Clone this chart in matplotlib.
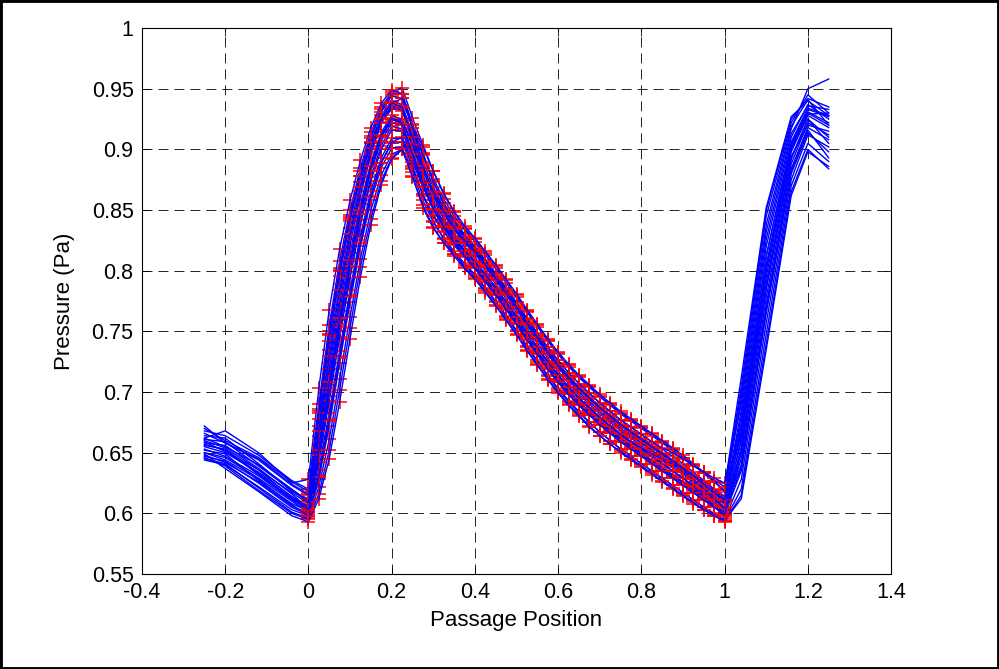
import matplotlib
matplotlib.use('Agg')
import matplotlib.pyplot as plt
from matplotlib.patches import Rectangle

# passage positions: inlet stretch, blade surface (measured, marked), outlet stretch
x_left = [-0.25, -0.2, -0.12, -0.04]
x_blade = [0.0, 0.025, 0.05, 0.075, 0.1, 0.125, 0.15, 0.175, 0.2, 0.225,
           0.25, 0.275, 0.3, 0.325, 0.35, 0.375, 0.4, 0.425, 0.45, 0.475,
           0.5, 0.525, 0.55, 0.575, 0.6, 0.625, 0.65, 0.675, 0.7, 0.725,
           0.75, 0.775, 0.8, 0.825, 0.85, 0.875, 0.9, 0.925, 0.95, 0.975, 1.0]
x_right = [1.04, 1.1, 1.16, 1.2, 1.25]

# pressure per run: 4 inlet values, 41 blade values, 5 outlet values
run_01 = [0.668, 0.664, 0.648, 0.627,
          0.620, 0.690, 0.755, 0.808, 0.850, 0.885, 0.914, 0.935, 0.947, 0.951, 0.926,
          0.904, 0.882, 0.863, 0.848, 0.835, 0.826, 0.815, 0.804, 0.792, 0.780,
          0.767, 0.755, 0.743, 0.732, 0.722, 0.713, 0.705, 0.697, 0.690, 0.683,
          0.677, 0.671, 0.665, 0.659, 0.653, 0.646, 0.640, 0.633, 0.626, 0.619,
          0.700, 0.845, 0.922, 0.945, 0.930]
run_02 = [0.662, 0.655, 0.640, 0.620,
          0.610, 0.672, 0.735, 0.789, 0.835, 0.873, 0.905, 0.928, 0.940, 0.937, 0.912,
          0.890, 0.869, 0.852, 0.839, 0.828, 0.818, 0.807, 0.796, 0.784, 0.772,
          0.759, 0.747, 0.735, 0.724, 0.713, 0.704, 0.695, 0.687, 0.680, 0.673,
          0.667, 0.661, 0.655, 0.649, 0.643, 0.637, 0.631, 0.624, 0.617, 0.610,
          0.680, 0.820, 0.910, 0.937, 0.925]
run_03 = [0.655, 0.650, 0.634, 0.614,
          0.605, 0.655, 0.713, 0.767, 0.815, 0.855, 0.889, 0.914, 0.928, 0.925, 0.902,
          0.879, 0.858, 0.843, 0.831, 0.820, 0.811, 0.800, 0.789, 0.777, 0.765,
          0.752, 0.740, 0.728, 0.717, 0.707, 0.698, 0.690, 0.682, 0.675, 0.668,
          0.662, 0.656, 0.650, 0.644, 0.638, 0.632, 0.626, 0.619, 0.612, 0.605,
          0.660, 0.795, 0.898, 0.928, 0.918]
run_04 = [0.650, 0.646, 0.629, 0.610,
          0.601, 0.642, 0.693, 0.745, 0.794, 0.838, 0.874, 0.900, 0.916, 0.915, 0.893,
          0.870, 0.850, 0.836, 0.824, 0.813, 0.804, 0.793, 0.782, 0.770, 0.758,
          0.745, 0.733, 0.721, 0.710, 0.700, 0.691, 0.683, 0.675, 0.668, 0.661,
          0.655, 0.649, 0.643, 0.637, 0.631, 0.625, 0.619, 0.613, 0.607, 0.601,
          0.645, 0.778, 0.888, 0.922, 0.912]
run_05 = [0.644, 0.640, 0.622, 0.603,
          0.598, 0.628, 0.672, 0.724, 0.774, 0.820, 0.858, 0.885, 0.901, 0.902, 0.878,
          0.852, 0.835, 0.823, 0.814, 0.805, 0.796, 0.785, 0.774, 0.762, 0.750,
          0.737, 0.725, 0.713, 0.702, 0.692, 0.683, 0.675, 0.667, 0.660, 0.653,
          0.647, 0.641, 0.635, 0.629, 0.623, 0.617, 0.611, 0.605, 0.600, 0.595,
          0.628, 0.757, 0.875, 0.912, 0.902]
run_06 = [0.646, 0.639, 0.619, 0.600,
          0.595, 0.616, 0.652, 0.702, 0.753, 0.803, 0.843, 0.874, 0.893, 0.900, 0.884,
          0.863, 0.841, 0.826, 0.814, 0.803, 0.794, 0.783, 0.772, 0.760, 0.748,
          0.735, 0.723, 0.711, 0.700, 0.690, 0.681, 0.672, 0.664, 0.657, 0.650,
          0.644, 0.638, 0.632, 0.626, 0.620, 0.614, 0.608, 0.603, 0.598, 0.593,
          0.615, 0.740, 0.865, 0.900, 0.884]
run_07 = [0.664, 0.662, 0.641, 0.618,
          0.612, 0.678, 0.742, 0.796, 0.841, 0.878, 0.909, 0.931, 0.944, 0.942, 0.918,
          0.895, 0.873, 0.855, 0.841, 0.829, 0.819, 0.808, 0.797, 0.785, 0.773,
          0.760, 0.748, 0.737, 0.726, 0.716, 0.707, 0.699, 0.691, 0.684, 0.677,
          0.671, 0.665, 0.659, 0.654, 0.650, 0.645, 0.639, 0.634, 0.629, 0.625,
          0.690, 0.832, 0.917, 0.950, 0.958]
run_08 = [0.659, 0.651, 0.636, 0.613,
          0.604, 0.648, 0.700, 0.754, 0.804, 0.847, 0.883, 0.910, 0.925, 0.924, 0.904,
          0.883, 0.862, 0.847, 0.834, 0.823, 0.814, 0.803, 0.792, 0.780, 0.768,
          0.755, 0.743, 0.731, 0.720, 0.710, 0.700, 0.692, 0.684, 0.677, 0.670,
          0.664, 0.658, 0.652, 0.646, 0.640, 0.634, 0.628, 0.621, 0.614, 0.608,
          0.668, 0.805, 0.903, 0.931, 0.922]
run_09 = [0.652, 0.649, 0.627, 0.608,
          0.602, 0.645, 0.697, 0.750, 0.799, 0.842, 0.877, 0.903, 0.919, 0.917, 0.896,
          0.874, 0.854, 0.839, 0.827, 0.816, 0.807, 0.796, 0.785, 0.773, 0.761,
          0.748, 0.736, 0.724, 0.713, 0.703, 0.694, 0.686, 0.678, 0.671, 0.664,
          0.658, 0.652, 0.647, 0.643, 0.640, 0.634, 0.624, 0.616, 0.609, 0.603,
          0.652, 0.785, 0.892, 0.925, 0.905]
run_10 = [0.672, 0.658, 0.644, 0.623,
          0.615, 0.683, 0.747, 0.800, 0.843, 0.878, 0.906, 0.926, 0.938, 0.942, 0.918,
          0.888, 0.862, 0.843, 0.829, 0.817, 0.808, 0.797, 0.786, 0.774, 0.762,
          0.749, 0.737, 0.725, 0.714, 0.704, 0.695, 0.687, 0.679, 0.672, 0.665,
          0.659, 0.653, 0.647, 0.641, 0.635, 0.629, 0.623, 0.617, 0.611, 0.604,
          0.672, 0.812, 0.906, 0.934, 0.928]
run_11 = [0.647, 0.643, 0.625, 0.605,
          0.599, 0.632, 0.678, 0.730, 0.780, 0.825, 0.862, 0.889, 0.905, 0.906, 0.885,
          0.863, 0.846, 0.833, 0.822, 0.812, 0.803, 0.792, 0.781, 0.769, 0.757,
          0.744, 0.732, 0.720, 0.709, 0.699, 0.690, 0.682, 0.674, 0.667, 0.660,
          0.654, 0.648, 0.642, 0.636, 0.630, 0.624, 0.618, 0.612, 0.606, 0.600,
          0.638, 0.768, 0.882, 0.916, 0.893]
run_12 = [0.657, 0.652, 0.632, 0.612,
          0.603, 0.652, 0.708, 0.761, 0.809, 0.850, 0.886, 0.912, 0.926, 0.921, 0.896,
          0.872, 0.851, 0.836, 0.823, 0.812, 0.802, 0.791, 0.780, 0.768, 0.756,
          0.743, 0.731, 0.719, 0.708, 0.698, 0.689, 0.681, 0.673, 0.666, 0.659,
          0.653, 0.647, 0.641, 0.635, 0.629, 0.623, 0.617, 0.611, 0.605, 0.599,
          0.655, 0.790, 0.894, 0.920, 0.915]
run_13 = [0.666, 0.658, 0.645, 0.624,
          0.616, 0.684, 0.748, 0.801, 0.846, 0.882, 0.911, 0.933, 0.946, 0.946, 0.921,
          0.897, 0.874, 0.856, 0.842, 0.830, 0.820, 0.809, 0.798, 0.786, 0.774,
          0.761, 0.749, 0.737, 0.726, 0.716, 0.707, 0.699, 0.691, 0.684, 0.677,
          0.671, 0.665, 0.659, 0.653, 0.647, 0.641, 0.634, 0.627, 0.620, 0.614,
          0.695, 0.838, 0.919, 0.941, 0.920]
run_14 = [0.660, 0.654, 0.636, 0.617,
          0.608, 0.664, 0.724, 0.778, 0.826, 0.866, 0.898, 0.922, 0.935, 0.932, 0.908,
          0.884, 0.863, 0.848, 0.835, 0.824, 0.815, 0.804, 0.793, 0.781, 0.769,
          0.756, 0.744, 0.732, 0.721, 0.711, 0.702, 0.694, 0.686, 0.679, 0.672,
          0.666, 0.660, 0.654, 0.648, 0.642, 0.636, 0.630, 0.623, 0.616, 0.609,
          0.675, 0.812, 0.905, 0.933, 0.927]
run_15 = [0.653, 0.647, 0.631, 0.611,
          0.603, 0.648, 0.703, 0.756, 0.804, 0.847, 0.882, 0.907, 0.922, 0.920, 0.898,
          0.875, 0.855, 0.840, 0.828, 0.817, 0.808, 0.797, 0.786, 0.774, 0.762,
          0.749, 0.737, 0.725, 0.714, 0.704, 0.695, 0.687, 0.679, 0.672, 0.665,
          0.659, 0.653, 0.647, 0.641, 0.635, 0.629, 0.622, 0.614, 0.606, 0.597,
          0.650, 0.786, 0.893, 0.925, 0.910]
run_16 = [0.648, 0.642, 0.626, 0.606,
          0.600, 0.636, 0.683, 0.734, 0.784, 0.829, 0.866, 0.893, 0.909, 0.909, 0.886,
          0.862, 0.845, 0.832, 0.821, 0.811, 0.802, 0.791, 0.780, 0.768, 0.756,
          0.743, 0.731, 0.719, 0.708, 0.698, 0.689, 0.681, 0.673, 0.666, 0.659,
          0.653, 0.647, 0.641, 0.635, 0.629, 0.623, 0.617, 0.611, 0.605, 0.599,
          0.635, 0.765, 0.880, 0.914, 0.898]
run_17 = [0.645, 0.641, 0.621, 0.601,
          0.596, 0.622, 0.661, 0.711, 0.762, 0.810, 0.850, 0.879, 0.896, 0.900, 0.881,
          0.858, 0.840, 0.827, 0.816, 0.806, 0.797, 0.786, 0.775, 0.763, 0.751,
          0.738, 0.726, 0.714, 0.703, 0.693, 0.684, 0.675, 0.667, 0.660, 0.653,
          0.647, 0.641, 0.635, 0.629, 0.623, 0.617, 0.611, 0.605, 0.599, 0.594,
          0.620, 0.748, 0.870, 0.905, 0.890]
run_18 = [0.670, 0.660, 0.646, 0.626,
          0.618, 0.686, 0.750, 0.802, 0.844, 0.878, 0.905, 0.923, 0.933, 0.934, 0.914,
          0.896, 0.876, 0.859, 0.845, 0.834, 0.824, 0.813, 0.802, 0.790, 0.778,
          0.766, 0.754, 0.742, 0.731, 0.721, 0.712, 0.704, 0.696, 0.689, 0.682,
          0.676, 0.670, 0.664, 0.658, 0.652, 0.646, 0.640, 0.633, 0.626, 0.618,
          0.705, 0.850, 0.925, 0.942, 0.935]
run_19 = [0.656, 0.653, 0.633, 0.612,
          0.606, 0.660, 0.719, 0.773, 0.821, 0.862, 0.896, 0.922, 0.936, 0.934, 0.905,
          0.878, 0.855, 0.838, 0.825, 0.814, 0.805, 0.794, 0.783, 0.771, 0.759,
          0.746, 0.734, 0.722, 0.711, 0.701, 0.692, 0.684, 0.676, 0.669, 0.662,
          0.656, 0.650, 0.644, 0.638, 0.632, 0.626, 0.620, 0.613, 0.606, 0.600,
          0.662, 0.800, 0.900, 0.930, 0.920]
run_20 = [0.650, 0.644, 0.628, 0.607,
          0.598, 0.630, 0.676, 0.728, 0.778, 0.823, 0.861, 0.889, 0.906, 0.910, 0.890,
          0.869, 0.851, 0.837, 0.826, 0.816, 0.807, 0.797, 0.786, 0.774, 0.762,
          0.749, 0.737, 0.725, 0.714, 0.704, 0.695, 0.687, 0.679, 0.672, 0.665,
          0.659, 0.654, 0.649, 0.645, 0.641, 0.636, 0.628, 0.620, 0.612, 0.604,
          0.640, 0.772, 0.884, 0.918, 0.908]
run_21 = [0.662, 0.668, 0.650, 0.625,
          0.628, 0.703, 0.768, 0.818, 0.858, 0.891, 0.918, 0.938, 0.949, 0.946, 0.920,
          0.902, 0.882, 0.864, 0.849, 0.837, 0.827, 0.816, 0.805, 0.793, 0.781,
          0.768, 0.756, 0.744, 0.733, 0.723, 0.714, 0.706, 0.698, 0.691, 0.684,
          0.678, 0.672, 0.666, 0.660, 0.654, 0.648, 0.641, 0.634, 0.627, 0.622,
          0.712, 0.852, 0.927, 0.940, 0.928]
run_22 = [0.658, 0.656, 0.637, 0.616,
          0.604, 0.652, 0.706, 0.759, 0.808, 0.850, 0.886, 0.911, 0.924, 0.923, 0.904,
          0.885, 0.866, 0.851, 0.838, 0.827, 0.817, 0.806, 0.795, 0.783, 0.771,
          0.758, 0.746, 0.734, 0.723, 0.713, 0.704, 0.696, 0.688, 0.681, 0.674,
          0.668, 0.662, 0.656, 0.650, 0.644, 0.638, 0.632, 0.626, 0.619, 0.612,
          0.665, 0.802, 0.901, 0.929, 0.930]
run_23 = [0.649, 0.637, 0.618, 0.598,
          0.593, 0.612, 0.645, 0.692, 0.744, 0.795, 0.838, 0.871, 0.892, 0.900, 0.877,
          0.854, 0.836, 0.823, 0.812, 0.802, 0.793, 0.782, 0.771, 0.759, 0.747,
          0.734, 0.722, 0.710, 0.699, 0.689, 0.680, 0.671, 0.664, 0.657, 0.651,
          0.645, 0.639, 0.633, 0.627, 0.621, 0.615, 0.609, 0.603, 0.598, 0.594,
          0.612, 0.735, 0.862, 0.898, 0.886]
run_24 = [0.661, 0.659, 0.639, 0.619,
          0.609, 0.668, 0.730, 0.784, 0.830, 0.869, 0.901, 0.925, 0.938, 0.935, 0.910,
          0.886, 0.865, 0.849, 0.836, 0.825, 0.816, 0.805, 0.794, 0.782, 0.770,
          0.757, 0.745, 0.733, 0.722, 0.712, 0.703, 0.695, 0.687, 0.680, 0.673,
          0.667, 0.661, 0.655, 0.649, 0.643, 0.637, 0.631, 0.624, 0.617, 0.611,
          0.685, 0.826, 0.913, 0.936, 0.933]

runs = [run_01, run_13, run_05, run_18, run_09, run_02, run_17, run_14,
        run_06, run_21, run_11, run_03, run_22, run_16, run_07, run_19,
        run_04, run_23, run_10, run_15, run_08, run_20, run_24, run_12]

x_ticks = [-0.4, -0.2, 0.0, 0.2, 0.4, 0.6, 0.8, 1.0, 1.2, 1.4]
x_tick_labels = ['-0.4', '-0.2', '0', '0.2', '0.4', '0.6', '0.8', '1', '1.2', '1.4']
y_ticks = [0.55, 0.6, 0.65, 0.7, 0.75, 0.8, 0.85, 0.9, 0.95, 1.0]
y_tick_labels = ['0.55', '0.6', '0.65', '0.7', '0.75', '0.8', '0.85', '0.9', '0.95', '1']

plt.rcParams['font.family'] = ['Liberation Sans', 'DejaVu Sans']
plt.rcParams['lines.scale_dashes'] = False

fig = plt.figure(figsize=(9.99, 6.69), dpi=100)
fig.patch.set_facecolor('white')
ax = fig.add_axes([0.1421, 0.142, 0.7499, 0.816])

x_all = x_left + x_blade + x_right
nl, nb = len(x_left), len(x_blade)
for run in runs:
    ax.plot(x_blade, run[nl:nl + nb], '+', color='#ff0000', ms=10, mew=1.1)
    ax.plot(x_all, run, '-', color='#0000ff', lw=1.0)

ax.set_xlim(-0.4, 1.4)
ax.set_ylim(0.55, 1.0)
ax.set_xticks(x_ticks)
ax.set_xticklabels(x_tick_labels)
ax.set_yticks(y_ticks)
ax.set_yticklabels(y_tick_labels)
ax.grid(True, color='black', ls=(0, (7.2, 4.3)), lw=0.6)
ax.set_axisbelow(True)
ax.tick_params(direction='in', length=5.4, width=0.6, top=True, right=True,
               labelsize=15.5, pad=6)
for sp in ax.spines.values():
    sp.set_linewidth(0.8)
ax.set_xlabel('Passage Position', fontsize=16, labelpad=5)
ax.set_ylabel('Pressure (Pa)', fontsize=16, labelpad=12)

fig.patches.append(Rectangle((0, 0), 1, 1, transform=fig.transFigure, fill=False,
                             ec='black', lw=3.5, clip_on=False))

fig.savefig('out.png', dpi=100, facecolor='white')
